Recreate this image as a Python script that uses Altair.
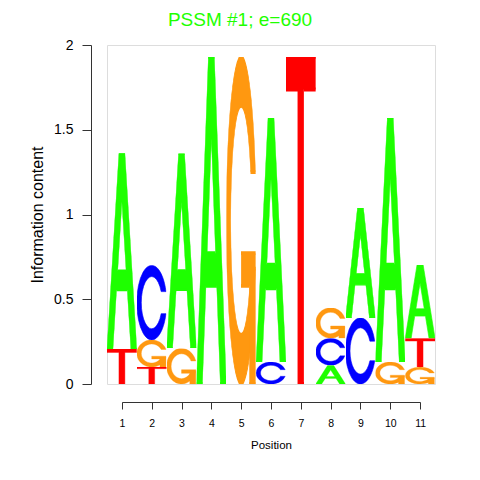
import base64
import altair as alt
import pandas as pd

# ---- data (bottom-to-top within each position) ----
positions = [1, 1, 2, 2, 2, 3, 3, 4, 5, 6, 6, 7, 8, 8, 8, 9, 9, 10, 10, 11, 11, 11]
letters = ["T", "A", "T", "G", "C", "G", "A", "A", "G", "C", "A", "T",
           "A", "C", "G", "C", "A", "G", "A", "G", "T", "A"]
heights = [0.207, 1.155, 0.10, 0.16, 0.44, 0.21, 1.15, 1.93, 1.93, 0.13, 1.44, 1.93,
           0.11, 0.16, 0.18, 0.39, 0.65, 0.13, 1.44, 0.10, 0.17, 0.435]
x_ticks = list(range(1, 12))
y_ticks = [0, 0.5, 1, 1.5, 2]

# ---- glyph styling (seqLogo-like letter outlines in a stretchable box) ----
colors = {"A": "#1EFF00", "C": "#0000FF", "G": "#FF9810", "T": "#FF0000"}
C_PATH = "M97.77 35.22 A50 50 0 1 0 97.77 64.78 L81.7 64.78 A35 35 0 1 1 81.7 35.22 Z"
glyphs = {
    "A": ['<path fill-rule="evenodd" d="M0 100 L40 0 L60 0 L100 100 L80 100 L68 70 L32 70 L20 100 Z '
          'M36 60 L50 25 L64 60 Z"/>'],
    "C": ['<path d="' + C_PATH + '"/>'],
    "G": ['<path d="' + C_PATH + '"/>',
          '<path d="M97.77 60 L50 60 L50 70 L77.77 70 L77.77 100 L97.77 100 Z"/>'],
    "T": ['<path d="M0 0 L100 0 L100 10 L60 10 L60 100 L40 100 L40 10 L0 10 Z"/>'],
}


def glyph_url(letter):
    svg = ('<svg xmlns="http://www.w3.org/2000/svg" width="100" height="100" '
           'viewBox="0 0 100 100" preserveAspectRatio="none">'
           '<g fill="%s" stroke="%s" stroke-width="1.2" vector-effect="non-scaling-stroke">%s</g></svg>'
           % (colors[letter], colors[letter], "".join(glyphs[letter])))
    return "data:image/svg+xml;base64," + base64.b64encode(svg.encode()).decode()


df = pd.DataFrame({"position": positions, "letter": letters, "height": heights})
df["order"] = range(len(df))
df["url"] = [glyph_url(l) for l in letters]

font = "Liberation Sans"
W, H = 328, 339
unit = W / 11.0

chart = (
    alt.Chart(df)
    .transform_window(top="sum(height)", groupby=["position"],
                      sort=[alt.SortField("order")], frame=[None, 0])
    .transform_calculate(bottom="datum.top - datum.height",
                         x0="datum.position - 0.5", x1="datum.position + 0.5")
    .mark_image(aspect=False)
    .encode(
        x=alt.X("x0:Q",
                scale=alt.Scale(domain=[1, 11], range=[0.5 * unit, 10.5 * unit],
                                nice=False, zero=False),
                axis=alt.Axis(values=x_ticks, format="d", title="Position",
                              labelFontSize=10.5, labelFont=font, labelColor="black",
                              labelFlush=False, labelPadding=9, tickSize=7,
                              tickColor="#333", domainColor="#333", offset=18,
                              grid=False, titleFont=font, titleFontSize=11.5,
                              titleFontWeight="normal", titleColor="black",
                              titlePadding=11)),
        x2="x1:Q",
        y=alt.Y("top:Q",
                scale=alt.Scale(domain=[0, 2], nice=False, zero=False),
                axis=alt.Axis(values=y_ticks, format="~g", title="Information content",
                              labelFontSize=14, labelFont=font, labelColor="black",
                              labelFlush=False, labelPadding=9, tickSize=9,
                              tickColor="#333", domainColor="#333", offset=16,
                              grid=False, titleFont=font, titleFontSize=16,
                              titleFontWeight="normal", titleColor="black",
                              titlePadding=8)),
        y2="bottom:Q",
        url="url:N",
    )
    .properties(
        width=W, height=H,
        title=alt.TitleParams("PSSM #1; e=690", color="#1EFF00", fontSize=19,
                              font=font, fontWeight="normal", anchor="middle",
                              dx=-31, offset=8),
        autosize=alt.AutoSizeParams(type="none"),
        padding={"left": 99, "top": 37, "right": 37, "bottom": 80},
    )
    .configure_view(stroke=None)
    .configure(background="white")
)

chart.save("out.html", embed_options={"renderer": "svg", "actions": False})
